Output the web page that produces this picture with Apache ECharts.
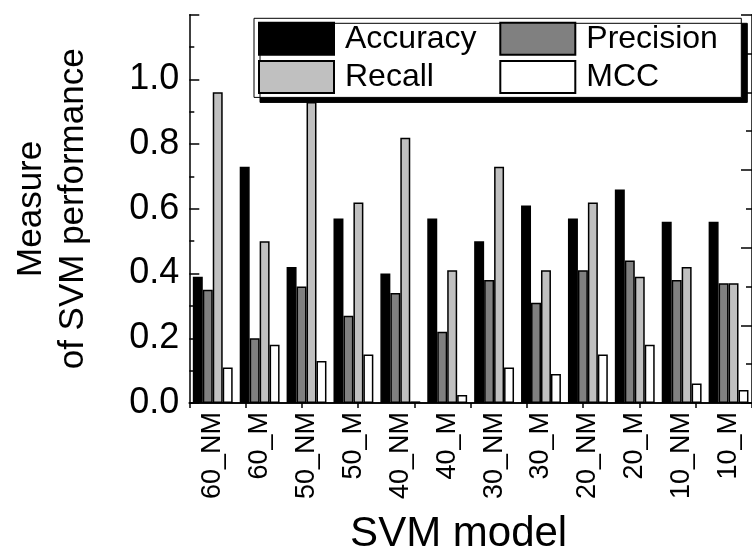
<!DOCTYPE html>
<html>
<head>
<meta charset="utf-8">
<script src="https://cdn.jsdelivr.net/npm/echarts@6/dist/echarts.min.js"></script>
<style>html,body{margin:0;padding:0;background:#fff;}#c{width:752px;height:560px;}</style>
</head>
<body>
<div id="c"></div>
<script>
const categories = ['60_NM','60_M','50_NM','50_M','40_NM','40_M','30_NM','30_M','20_NM','20_M','10_NM','10_M'];
const accuracy  = [0.39,0.73,0.42,0.57,0.40,0.57,0.50,0.61,0.57,0.66,0.56,0.56];
const precision = [0.35,0.20,0.36,0.27,0.34,0.22,0.38,0.31,0.41,0.44,0.38,0.37];
const recall    = [0.96,0.50,0.93,0.62,0.82,0.41,0.73,0.41,0.62,0.39,0.42,0.37];
const mcc       = [0.11,0.18,0.13,0.15,0.005,0.025,0.11,0.09,0.15,0.18,0.06,0.04];
const seriesNames = ['Accuracy','Precision','Recall','MCC'];
const legendOrder = ['Accuracy','Recall','Precision','MCC'];

const FONT = '"Liberation Sans", Arial, sans-serif';
const chart = echarts.init(document.getElementById('c'), null, {renderer:'canvas'});
const black = {color:'#000', width:1.5};
function bar(name, data, color){
  return {name, type:'bar', data, xAxisIndex:0, yAxisIndex:0,
    itemStyle:{color, borderColor:'#000', borderWidth:1.5},
    barGap:'0%', barCategoryGap:'15%'};
}
chart.setOption({
  animation:false,
  textStyle:{fontFamily:FONT, color:'#000'},
  grid:{left:189.3, top:14.7, width:568, height:399.3},
  legend:{
    data:legendOrder, orient:'vertical', left:254, top:18.3, height:82,
    padding:[3.4,5,3.4,4], itemGap:4.3, itemWidth:75, itemHeight:32,
    icon:'rect',
    backgroundColor:'#fff', borderColor:'#000', borderWidth:1,
    shadowColor:'#000', shadowBlur:0, shadowOffsetX:6, shadowOffsetY:5,
    textStyle:{fontSize:32, lineHeight:32, color:'#000', fontFamily:FONT, width:150, padding:[0,0,0,6]}
  },
  xAxis:[
    {type:'category', data:categories, position:'bottom',
     axisLine:{lineStyle:black}, axisTick:{show:false},
     axisLabel:{rotate:90, fontSize:27, margin:9, color:'#000', fontFamily:FONT, padding:[0,0,8,0]},
     name:'SVM model', nameLocation:'middle', nameGap:110,
     nameTextStyle:{fontSize:42, color:'#000', fontFamily:FONT, padding:[0,24,0,0]}},
    {type:'value', position:'top', min:0, max:10, interval:1,
     axisLine:{show:true, lineStyle:black},
     axisTick:{show:true, inside:true, length:5, lineStyle:black},
     axisLabel:{show:false}, splitLine:{show:false}}
  ],
  yAxis:[
    {type:'value', min:0, max:1.2, interval:0.2, position:'left',
     axisLine:{show:true, lineStyle:black},
     axisTick:{show:true, inside:true, length:10, lineStyle:black},
     minorTick:{show:true, splitNumber:2, length:5, lineStyle:{color:'#000', width:1.5}},
     axisLabel:{showMaxLabel:false, fontSize:36, margin:10, color:'#000', fontFamily:FONT,
       formatter:v=>v.toFixed(1)},
     splitLine:{show:false},
     name:'Measure\nof SVM performance', nameLocation:'middle', nameRotate:90, nameGap:95,
     nameTextStyle:{fontSize:35, lineHeight:42, color:'#000', fontFamily:FONT, align:'center'}},
    {type:'value', position:'right', min:0, max:5, interval:1,
     axisLine:{show:true, lineStyle:black},
     axisTick:{show:true, inside:true, length:11, lineStyle:black},
     minorTick:{show:true, splitNumber:2, length:6, lineStyle:{color:'#000', width:1.5}},
     axisLabel:{show:false}, splitLine:{show:false}}
  ],
  series:[
    bar(seriesNames[0], accuracy, '#000000'),
    bar(seriesNames[1], precision, '#808080'),
    bar(seriesNames[2], recall, '#c0c0c0'),
    bar(seriesNames[3], mcc, '#ffffff')
  ]
});
</script>
</body>
</html>
